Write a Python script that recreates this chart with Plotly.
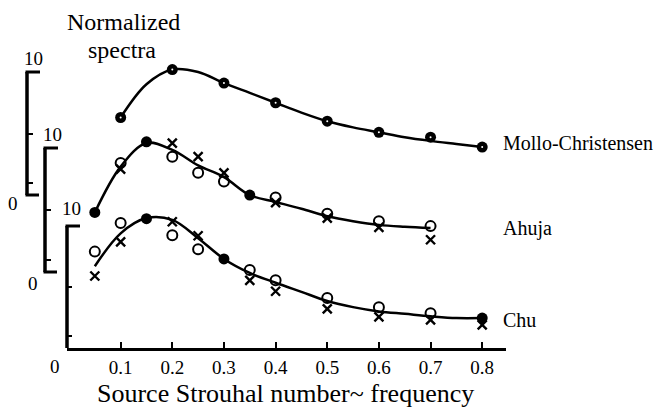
import plotly.graph_objects as go

# ---------------- data ----------------
x_ticks = [0.1, 0.2, 0.3, 0.4, 0.5, 0.6, 0.7, 0.8]
x_tick_text = ["0.1", "0.2", "0.3", "0.4", "0.5", "0.6", "0.7", "0.8"]

# Mollo-Christensen (top bracket)
mc_x = [0.1, 0.2, 0.3, 0.4, 0.5, 0.6, 0.7, 0.8]
mc_y = [6.3, 10.2, 9.1, 7.5, 6.0, 5.1, 4.7, 3.9]
mc_curve_x = [0.1, 0.15, 0.2, 0.25, 0.3, 0.35, 0.4, 0.45, 0.5, 0.55, 0.6, 0.65, 0.7, 0.75, 0.8]
mc_curve_y = [6.3, 9.0, 10.2, 10.0, 9.1, 8.3, 7.5, 6.7, 6.0, 5.5, 5.1, 4.7, 4.4, 4.15, 3.9]

# Ahuja (middle bracket)
ah_fill_x = [0.05, 0.15, 0.35]
ah_fill_y = [4.8, 10.5, 6.2]
ah_o_x = [0.1, 0.2, 0.25, 0.3, 0.4, 0.5, 0.6, 0.7]
ah_o_y = [8.8, 9.3, 8.0, 7.3, 6.0, 4.7, 4.1, 3.7]
ah_x_x = [0.1, 0.2, 0.25, 0.3, 0.4, 0.5, 0.6, 0.7]
ah_x_y = [8.3, 10.4, 9.3, 8.0, 5.6, 4.35, 3.6, 2.6]
ah_curve_x = [0.05, 0.1, 0.15, 0.2, 0.25, 0.3, 0.35, 0.4, 0.45, 0.5, 0.55, 0.6, 0.65, 0.7]
ah_curve_y = [4.8, 8.5, 10.4, 9.85, 8.6, 7.65, 6.2, 5.65, 5.1, 4.5, 4.1, 3.8, 3.65, 3.55]

# Chu (bottom bracket)
chu_fill_x = [0.15, 0.3, 0.8]
chu_fill_y = [10.6, 7.3, 2.45]
chu_o_x = [0.05, 0.1, 0.2, 0.25, 0.35, 0.4, 0.5, 0.6, 0.7]
chu_o_y = [7.9, 10.25, 9.25, 8.1, 6.4, 5.55, 4.1, 3.35, 2.85]
chu_x_x = [0.05, 0.1, 0.2, 0.25, 0.35, 0.4, 0.5, 0.6, 0.7, 0.8]
chu_x_y = [5.9, 8.7, 10.35, 9.2, 5.55, 4.65, 3.2, 2.55, 2.3, 1.9]
chu_curve_x = [0.05, 0.1, 0.15, 0.2, 0.25, 0.3, 0.35, 0.4, 0.45, 0.5, 0.55, 0.6, 0.65, 0.7, 0.75, 0.8]
chu_curve_y = [6.7, 9.4, 10.65, 10.5, 9.0, 7.3, 6.15, 5.35, 4.6, 3.85, 3.35, 3.0, 2.8, 2.6, 2.45, 2.45]

bracket_ticks = [1, 5]
series_names = ["Mollo-Christensen", "Ahuja", "Chu"]

# ---------------- figure ----------------
OFF = 8                     # page body margin of the browser
W, H = 665 - OFF, 412 - OFF
FONT = "Liberation Serif, Times New Roman, serif"
BLK = "black"


def px(xpix):               # window pixel -> paper fraction
    return (xpix - OFF) / W


def py(ypix):
    return (H - (ypix - OFF)) / H


fig = go.Figure()

line_style = dict(color=BLK, width=2.5, shape="spline", smoothing=1.0)
circ = dict(symbol="circle-open", size=10, color=BLK, line=dict(width=2, color=BLK))
cross = dict(symbol="x-thin-open", size=9, color=BLK, line=dict(width=2.4, color=BLK))
dot = dict(symbol="circle", size=11, color=BLK, line=dict(width=0, color=BLK))
speck = dict(symbol="circle", size=2, color="white", line=dict(width=0))

# Mollo-Christensen -> y3
fig.add_trace(go.Scatter(x=mc_curve_x, y=mc_curve_y, mode="lines", line=line_style, yaxis="y3", hoverinfo="skip"))
fig.add_trace(go.Scatter(x=mc_x, y=mc_y, mode="markers", marker=dot, yaxis="y3", cliponaxis=False))
fig.add_trace(go.Scatter(x=mc_x, y=mc_y, mode="markers", marker=speck, yaxis="y3", cliponaxis=False, hoverinfo="skip"))
# Ahuja -> y2
fig.add_trace(go.Scatter(x=ah_curve_x, y=ah_curve_y, mode="lines", line=line_style, yaxis="y2", hoverinfo="skip"))
fig.add_trace(go.Scatter(x=ah_o_x, y=ah_o_y, mode="markers", marker=circ, yaxis="y2", cliponaxis=False))
fig.add_trace(go.Scatter(x=ah_x_x, y=ah_x_y, mode="markers", marker=cross, yaxis="y2", cliponaxis=False))
fig.add_trace(go.Scatter(x=ah_fill_x, y=ah_fill_y, mode="markers", marker=dot, yaxis="y2", cliponaxis=False))
# Chu -> y
fig.add_trace(go.Scatter(x=chu_curve_x, y=chu_curve_y, mode="lines", line=line_style, yaxis="y", hoverinfo="skip"))
fig.add_trace(go.Scatter(x=chu_o_x, y=chu_o_y, mode="markers", marker=circ, yaxis="y", cliponaxis=False))
fig.add_trace(go.Scatter(x=chu_x_x, y=chu_x_y, mode="markers", marker=cross, yaxis="y", cliponaxis=False))
fig.add_trace(go.Scatter(x=chu_fill_x, y=chu_fill_y, mode="markers", marker=dot, yaxis="y", cliponaxis=False))

# geometry (window pixels)
x_axis_y = 348
x_left, x_right = 67, 506
x0_pix, x_scale = 69, 516.5
top_pix = OFF
ydom = [py(x_axis_y), 1.0]

chu_zero, chu_s = 348, 12.2
ah_zero, ah_s = 272, 12.4
mc_zero, mc_s = 195, 12.3


def yrange(zero, s):
    return [(zero - x_axis_y) / s, (zero - top_pix) / s]


yax_common = dict(showgrid=False, zeroline=False, showline=False, showticklabels=False,
                  ticks="inside", ticklen=5, tickwidth=2, tickcolor=BLK,
                  tickmode="array", tickvals=bracket_ticks, domain=ydom, fixedrange=True)

fig.update_layout(
    width=W, height=H,
    template="none",
    margin=dict(l=0, r=0, t=0, b=0),
    paper_bgcolor="white", plot_bgcolor="rgba(0,0,0,0)",
    showlegend=False,
    font=dict(family=FONT, color=BLK, size=19),
    xaxis=dict(domain=[px(x_left), px(x_right)],
               range=[(x_left - x0_pix) / x_scale, (x_right - x0_pix) / x_scale],
               showgrid=False, zeroline=False, showline=True, linewidth=3, linecolor=BLK,
               ticks="inside", ticklen=6, tickwidth=2, tickcolor=BLK,
               tickmode="array", tickvals=x_ticks, ticktext=x_tick_text,
               tickfont=dict(family=FONT, size=19, color=BLK),
               ticklabelstandoff=0, anchor="y", fixedrange=True),
    yaxis=dict(range=yrange(chu_zero, chu_s), anchor="x", **yax_common),
    yaxis2=dict(range=yrange(ah_zero, ah_s), anchor="free", position=px(45), overlaying="y", **yax_common),
    yaxis3=dict(range=yrange(mc_zero, mc_s), anchor="free", position=px(27), overlaying="y", **yax_common),
)


# brackets drawn in each axis' own value scale
def bracket(xpix, stub_top, stub_bot, yref):
    shapes = [dict(type="line", xref="paper", yref=yref, x0=px(xpix), x1=px(xpix), y0=0, y1=10,
                   line=dict(color=BLK, width=3.5))]
    shapes.append(dict(type="line", xref="paper", yref=yref, x0=px(xpix - 1.5), x1=px(stub_top), y0=10, y1=10,
                       line=dict(color=BLK, width=3)))
    if stub_bot is not None:
        shapes.append(dict(type="line", xref="paper", yref=yref, x0=px(xpix - 1.5), x1=px(stub_bot), y0=0, y1=0,
                           line=dict(color=BLK, width=3)))
    return shapes


shapes = bracket(27, 40, 39, "y3") + bracket(45, 58, 57, "y2") + bracket(67, 80, None, "y")
fig.update_layout(shapes=shapes)

ann = []
# bracket value labels
for (xp, yref, yval, shift, txt) in [(33, "y3", 10, 14, "10"), (13, "y3", 0, -8, "0"),
                                     (52, "y2", 10, 14, "10"), (33, "y2", 0, -11, "0"),
                                     (71, "y", 10, 18, "10"), (55, "y", 0, -18, "0")]:
    ann.append(dict(x=px(xp), xref="paper", y=yval, yref=yref, yshift=shift, text=txt, showarrow=False,
                    xanchor="center", yanchor="middle", font=dict(family=FONT, size=19, color=BLK)))
# series names
for name, ypix in zip(series_names, [143, 228, 320]):
    ann.append(dict(x=px(501), xref="paper", y=py(ypix), yref="paper", text=name, showarrow=False,
                    xanchor="left", yanchor="middle", font=dict(family=FONT, size=20, color=BLK)))
# titles
ann.append(dict(x=px(123), xref="paper", y=py(22), yref="paper", text="Normalized", showarrow=False,
                xanchor="center", yanchor="middle", font=dict(family=FONT, size=24, color=BLK)))
ann.append(dict(x=px(122), xref="paper", y=py(50), yref="paper", text="spectra", showarrow=False,
                xanchor="center", yanchor="middle", font=dict(family=FONT, size=24, color=BLK)))
ann.append(dict(x=px(285), xref="paper", y=py(393), yref="paper", text="Source Strouhal number~ frequency",
                showarrow=False, xanchor="center", yanchor="middle", font=dict(family=FONT, size=26, color=BLK)))
fig.update_layout(annotations=ann)

fig.write_html("out.html", config={"displayModeBar": False})
